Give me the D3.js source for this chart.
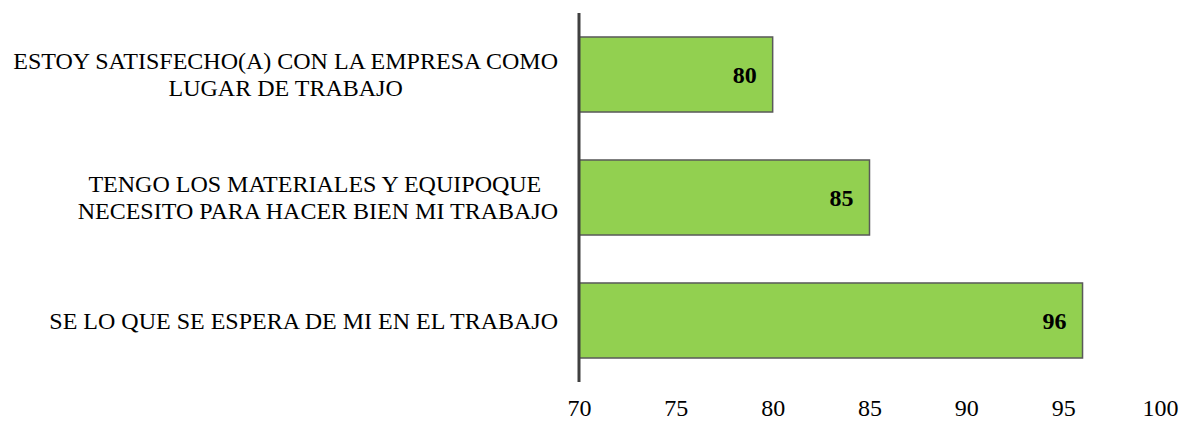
<!DOCTYPE html>
<html>
<head>
<meta charset="utf-8">
<script src="https://cdn.jsdelivr.net/npm/d3@7"></script>
<style>
  html, body { margin: 0; padding: 0; background: #fff; }
  svg { display: block; }
  svg text { font-family: "Liberation Serif", "Times New Roman", serif; }
</style>
</head>
<body>
<svg id="chart" width="1180" height="422"></svg>
<script>
// Survey statements (each line of the label as drawn) and their scores
const categories = [
  ["ESTOY SATISFECHO(A) CON LA EMPRESA COMO", "LUGAR DE TRABAJO"],
  ["TENGO LOS MATERIALES Y EQUIPOQUE\u00a0", "NECESITO PARA HACER BIEN MI TRABAJO"],
  ["SE LO QUE SE ESPERA DE MI EN EL TRABAJO"]
];
const values = [80, 85, 96];
const xTicks = [70, 75, 80, 85, 90, 95, 100];

const svg = d3.select("#chart");
const axisX = 579;
const plotRight = 1160;
const plotTop = 13;
const plotBottom = 382;
const fontSize = 24;

const x = d3.scaleLinear().domain([70, 100]).range([axisX, plotRight]);
const y = d3.scaleBand()
  .domain(d3.range(categories.length))
  .range([plotTop, plotBottom])
  .paddingInner(0.39)
  .paddingOuter(0.195);

// Bars
svg.append("g").selectAll("rect")
  .data(values)
  .join("rect")
  .attr("x", x(70))
  .attr("y", (d, i) => y(i))
  .attr("width", d => x(d) - x(70))
  .attr("height", y.bandwidth())
  .attr("fill", "#92D050")
  .attr("stroke", "#595959")
  .attr("stroke-width", 1.5);

// Value labels inside bar ends
svg.append("g").selectAll("text")
  .data(values)
  .join("text")
  .attr("x", d => x(d) - 16)
  .attr("y", (d, i) => y(i) + y.bandwidth() / 2 + 8)
  .attr("text-anchor", "end")
  .attr("font-size", fontSize)
  .attr("font-weight", "bold")
  .attr("fill", "#000")
  .text(d => d);

// Category labels: each block right-aligned at the axis, lines centred within the block
const labelRight = 558;
const lineH = 27;
const labelG = svg.append("g");
categories.forEach((lines, i) => {
  const g = labelG.append("g");
  const cy = y(i) + y.bandwidth() / 2;
  const texts = lines.map((ln, j) =>
    g.append("text")
      .attr("font-size", fontSize)
      .attr("fill", "#000")
      .attr("text-anchor", "middle")
      .attr("y", cy + 8 + (j - (lines.length - 1) / 2) * lineH)
      .text(ln)
  );
  const maxW = d3.max(texts, t => t.node().getComputedTextLength());
  texts.forEach(t => t.attr("x", labelRight - maxW / 2));
});

// Bottom tick labels (no axis line drawn along the bottom)
const xAxis = svg.append("g")
  .attr("transform", `translate(0, ${plotBottom})`)
  .call(d3.axisBottom(x).tickValues(xTicks).tickSize(0).tickPadding(17));
xAxis.select(".domain").remove();
xAxis.attr("font-family", null).attr("font-size", null);
xAxis.selectAll("text")
  .attr("font-size", fontSize)
  .attr("fill", "#000");

// Vertical category axis line
svg.append("line")
  .attr("x1", axisX).attr("x2", axisX)
  .attr("y1", plotTop).attr("y2", plotBottom)
  .attr("stroke", "#404040")
  .attr("stroke-width", 3);
</script>
</body>
</html>
